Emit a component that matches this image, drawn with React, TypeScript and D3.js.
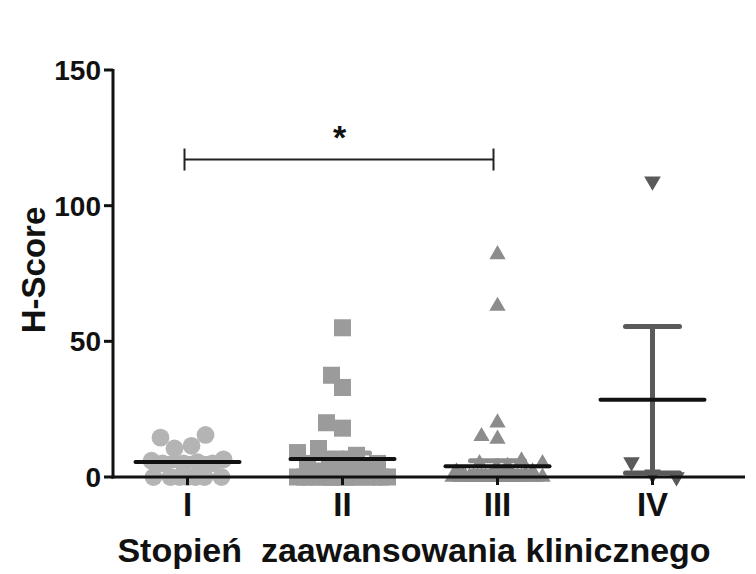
import React from 'react';
import * as d3 from 'd3';

// H-Score by clinical stage
const categories = ['I', 'II', 'III', 'IV'];
const stageI = [0, 0, 0, 0, 0, 0, 0, 5, 5, 5, 5.5, 6, 6.5, 10.5, 11.5, 15.5, 14.5];
const stageII = [0, 0, 0, 0, 0, 0, 0, 0, 0, 0, 0, 0, 0, 0, 0, 0,
  1, 2, 3, 5, 5, 6, 6, 8, 9, 10.5, 18, 20, 33, 37.5, 55];
const stageIII = [0, 0, 0, 0, 0, 0, 0, 0, 0, 0, 0, 0, 0, 0, 0, 0, 0, 0, 0, 0,
  1, 1, 2, 2, 3, 4, 5, 5, 6, 14, 15, 20, 63, 82];
const stageIV = [109, 1, 5.5, 0];
const groupMeans = [5.5, 6.6, 4.0, 28.5];
const groupSems = [1.3, 2.2, 2.0, 27];
const yTicks = [0, 50, 100, 150];
const sigPair = ['I', 'III'];
const sigValue = 117;
const sigLabel = '*';

const groups = [stageI, stageII, stageIII, stageIV];
const colors = ['#b4b4b4', '#9b9b9b', '#8c8c8c', '#5a5a5a'];
const symbols = [d3.symbolCircle, d3.symbolSquare, d3.symbolTriangle, d3.symbolTriangle];
const symSizes = [250, 290, 115, 120];
const spread = [36, 45, 45, 26];
const diams = [17, 16, 16, 24];
const font = '"Liberation Sans", Arial, sans-serif';

const width = 756;
const height = 574;

const x = d3.scaleBand().domain(categories).range([110, 730]);
const y = d3.scaleLinear().domain([0, 150]).range([477, 70]);
const cx = (c: string) => (x(c) as number) + x.bandwidth() / 2;

// greedy beeswarm in list order so overlapping points fan out sideways
function swarm(values: number[], diam: number, maxHalf: number) {
  const placed: { dx: number; py: number }[] = [];
  const cands: number[] = [0];
  for (let s = 1; s <= maxHalf; s++) cands.push(-s, s);
  return values.map(v => {
    const py = y(v);
    let best = 0;
    let bestD = -1;
    for (const dx of cands) {
      let minD = Infinity;
      placed.forEach(q => {
        const d = Math.hypot(dx - q.dx, py - q.py);
        if (d < minD) minD = d;
      });
      if (minD >= diam) { best = dx; bestD = Infinity; break; }
      if (minD > bestD) { bestD = minD; best = dx; }
    }
    placed.push({ dx: best, py });
    return best;
  });
}

export default function App() {
  const meanHalf = 52;
  const capHalf = 27;
  return (
    <svg width={width} height={height} style={{ position: 'absolute', left: 0, top: 0, background: '#fff' }}>
      {/* points */}
      {groups.map((vals, g) => {
        const c = categories[g];
        const offs = swarm(vals, diams[g], spread[g]);
        const path = d3.symbol(symbols[g], symSizes[g])() as string;
        return (
          <g key={c}>
            {vals.map((v, i) => (
              <path key={i} d={path} fill={colors[g]}
                transform={`translate(${cx(c) + offs[i]},${y(v)})${g === 3 ? ' rotate(180)' : ''}`} />
            ))}
          </g>
        );
      })}

      {/* error bars (SEM) and means */}
      {categories.map((c, g) => {
        const hi = y(groupMeans[g] + groupSems[g]);
        const lo = y(Math.max(0, groupMeans[g] - groupSems[g]));
        return (
          <g key={c} strokeLinecap="round">
            <line x1={cx(c)} x2={cx(c)} y1={hi} y2={lo} stroke={colors[g]} strokeWidth={5} />
            <line x1={cx(c) - capHalf} x2={cx(c) + capHalf} y1={hi} y2={hi} stroke={colors[g]} strokeWidth={5} />
            <line x1={cx(c) - capHalf} x2={cx(c) + capHalf} y1={lo} y2={lo} stroke={colors[g]} strokeWidth={5} />
            <line x1={cx(c) - meanHalf} x2={cx(c) + meanHalf} y1={y(groupMeans[g])} y2={y(groupMeans[g])}
              stroke="#111" strokeWidth={4} />
          </g>
        );
      })}

      {/* axes */}
      <line x1={113} x2={113} y1={y(150) - 1} y2={y(0) + 1.5} stroke="#111" strokeWidth={3} />
      <line x1={111.5} x2={745} y1={y(0)} y2={y(0)} stroke="#111" strokeWidth={3} />
      {yTicks.map(t => (
        <g key={t}>
          <line x1={104} x2={113} y1={y(t)} y2={y(t)} stroke="#111" strokeWidth={3} />
          <text x={101} y={y(t)} dy="0.36em" textAnchor="end" fontFamily={font} fontWeight="bold"
            fontSize={28} fill="#111">{t}</text>
        </g>
      ))}
      {categories.map(c => (
        <g key={c}>
          <line x1={cx(c)} x2={cx(c)} y1={y(0)} y2={y(0) + 8} stroke="#111" strokeWidth={3} />
          <text x={cx(c)} y={516} textAnchor="middle" fontFamily={font} fontWeight="bold"
            fontSize={33} fill="#111">{c}</text>
        </g>
      ))}

      <text transform="translate(45,270) rotate(-90)" textAnchor="middle" fontFamily={font}
        fontWeight="bold" fontSize={33} fill="#111">H-Score</text>
      <text x={414} y={562} textAnchor="middle" fontFamily={font} fontWeight="bold"
        fontSize={34} fill="#111" style={{ whiteSpace: 'pre' }}>{'Stopień  zaawansowania klinicznego'}</text>

      {/* significance bracket */}
      <g stroke="#222" strokeWidth={2}>
        <line x1={cx(sigPair[0]) - 3} x2={cx(sigPair[1]) - 4} y1={y(sigValue)} y2={y(sigValue)} />
        <line x1={cx(sigPair[0]) - 3} x2={cx(sigPair[0]) - 3} y1={y(sigValue) - 11} y2={y(sigValue) + 11} />
        <line x1={cx(sigPair[1]) - 4} x2={cx(sigPair[1]) - 4} y1={y(sigValue) - 11} y2={y(sigValue) + 11} />
      </g>
      <text x={(cx(sigPair[0]) + cx(sigPair[1])) / 2 - 3} y={y(sigValue) - 11} textAnchor="middle"
        fontFamily={font} fontWeight="bold" fontSize={34} fill="#111">{sigLabel}</text>
    </svg>
  );
}
